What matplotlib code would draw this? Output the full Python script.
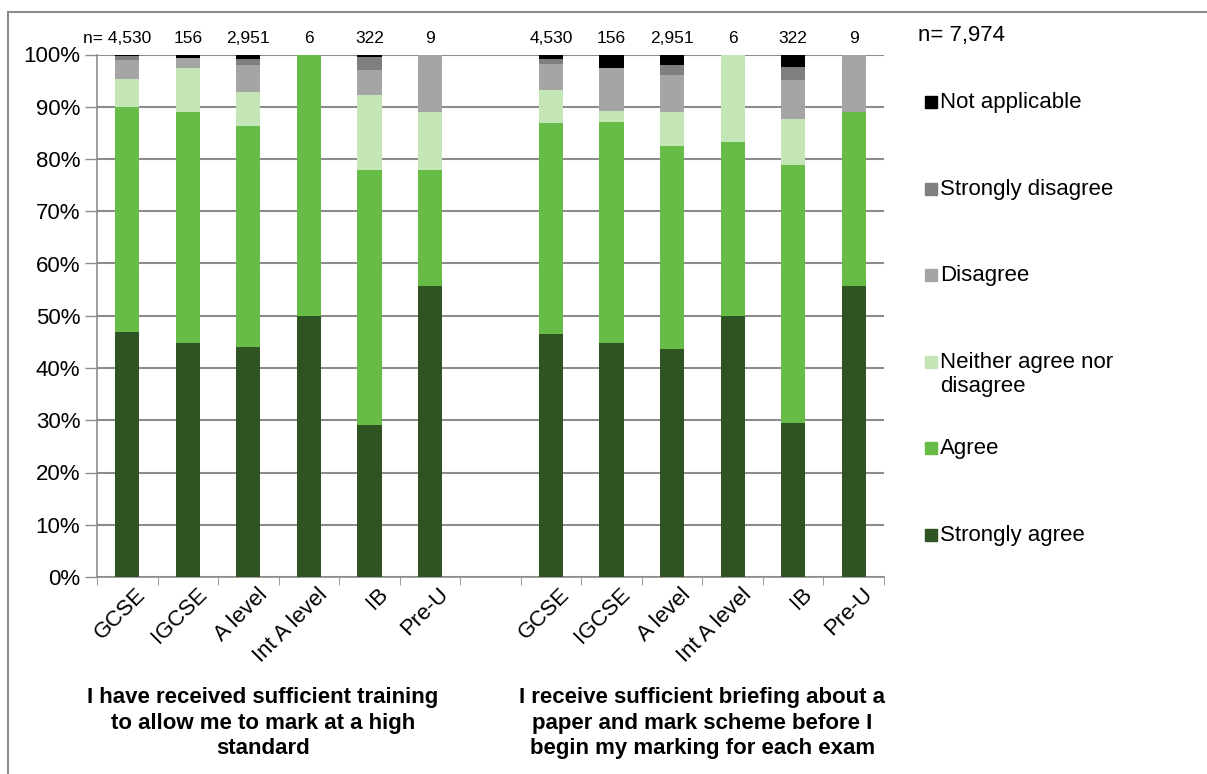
import numpy as np
import matplotlib.pyplot as plt
from matplotlib.patches import Rectangle

plt.rcParams['font.family'] = ['Liberation Sans', 'DejaVu Sans']

# survey responses (% of respondents), one list per qualification
quals = ['GCSE', 'IGCSE', 'A level', 'Int A level', 'IB', 'Pre-U']
n_counts = ['4,530', '156', '2,951', '6', '322', '9']
levels = ['Strongly agree', 'Agree', 'Neither agree nor\ndisagree',
          'Disagree', 'Strongly disagree', 'Not applicable']
colors = ['#2f5421', '#67bb47', '#c4e5b5', '#a5a5a5', '#7f7f7f', '#000000']

# statement 1: training
training = [
    [46.9, 43.0, 5.5, 3.5, 0.8, 0.3],
    [44.8, 44.2, 8.4, 1.9, 0.0, 0.7],
    [44.0, 42.4, 6.5, 5.0, 1.3, 0.8],
    [50.0, 50.0, 0.0, 0.0, 0.0, 0.0],
    [29.1, 48.8, 14.3, 4.8, 2.5, 0.5],
    [55.6, 22.2, 11.1, 11.1, 0.0, 0.0],
]
# statement 2: briefing
briefing = [
    [46.6, 40.3, 6.4, 4.8, 1.1, 0.8],
    [44.8, 42.3, 2.1, 8.3, 0.0, 2.5],
    [43.6, 38.8, 6.6, 7.1, 1.9, 2.0],
    [50.0, 33.3, 16.7, 0.0, 0.0, 0.0],
    [29.5, 49.4, 8.7, 7.5, 2.5, 2.4],
    [55.6, 33.3, 0.0, 11.1, 0.0, 0.0],
]
group_titles = ['I have received sufficient training\nto allow me to mark at a high\nstandard',
                'I receive sufficient briefing about a\npaper and mark scheme before I\nbegin my marking for each exam']
total_n = 'n= 7,974'

W, H = 1207, 774
fig = plt.figure(figsize=(W / 100, H / 100), dpi=100)
ax = fig.add_axes([97 / W, 1 - 577 / H, (884 - 97) / W, (577 - 54.5) / H])

# two groups of six bars with an empty slot between them
x = np.concatenate([np.arange(6), np.arange(7, 13)])
data = np.array(training + briefing)
labels = quals + quals
ns = n_counts + n_counts

bottom = np.zeros(len(x))
for j in range(len(levels)):
    ax.bar(x, data[:, j], bottom=bottom, width=0.4, color=colors[j],
           zorder=3)
    bottom += data[:, j]

grid_c = '#8c8c8c'
fs = 16
ax.set_xlim(-0.5, 12.5)
ax.set_ylim(0, 100)
ax.set_yticks(np.arange(0, 101, 10))
ax.set_yticklabels([f'{v}%' for v in range(0, 101, 10)], fontsize=fs)
ax.yaxis.grid(True, color=grid_c, lw=1.5, zorder=0)
ax.tick_params(axis='y', length=9, width=1, color=grid_c, pad=3)

ax.set_xticks(x)
ax.set_xticklabels([])
ax.tick_params(axis='x', which='major', length=0)
ax.set_xticks(np.arange(-0.5, 13, 1), minor=True)
ax.tick_params(axis='x', which='minor', length=6, color=grid_c)
for xi, lab in zip(x, labels):
    ax.annotate(lab, (xi, 0), xytext=(6, -5), textcoords='offset points',
                rotation=45, ha='right', va='top', rotation_mode='anchor',
                fontsize=fs, annotation_clip=False)

for s in ['top', 'right']:
    ax.spines[s].set_visible(False)
for s in ['left', 'bottom']:
    ax.spines[s].set_color(grid_c)
    ax.spines[s].set_linewidth(1.2)

# sample sizes above each bar
for i, (xi, n) in enumerate(zip(x, ns)):
    if i == 0:
        ax.text(xi + 0.39, 103, 'n= ' + n, ha='right', va='center', fontsize=12.5)
    else:
        ax.text(xi, 103, n, ha='center', va='center', fontsize=12.5)

# group titles under the category labels
for xc, t in zip([2.24, 9.5], group_titles):
    ax.annotate(t, (xc, 0), xytext=(0, -79), textcoords='offset points',
                ha='center', va='top', fontsize=fs, fontweight='bold',
                linespacing=1.3, annotation_clip=False)

# legend, top entry first
fig.text(918 / W, 1 - 35 / H, total_n, fontsize=fs, va='center')
for k, j in enumerate(range(len(levels) - 1, -1, -1)):
    yc = 102 + 86.6 * k
    fig.add_artist(Rectangle((925 / W, 1 - (yc + 6) / H), 12 / W, 12 / H,
                             transform=fig.transFigure, color=colors[j]))
    fig.text(940 / W, 1 - (yc - 10) / H, levels[j], fontsize=fs, va='top',
             linespacing=1.2)

# outer frame
fig.add_artist(Rectangle((8 / W, -0.05), 1.2, 1 - 12 / H + 0.05,
                         transform=fig.transFigure, fill=False,
                         ec=grid_c, lw=1.5))

fig.savefig('out.png', dpi=100)
